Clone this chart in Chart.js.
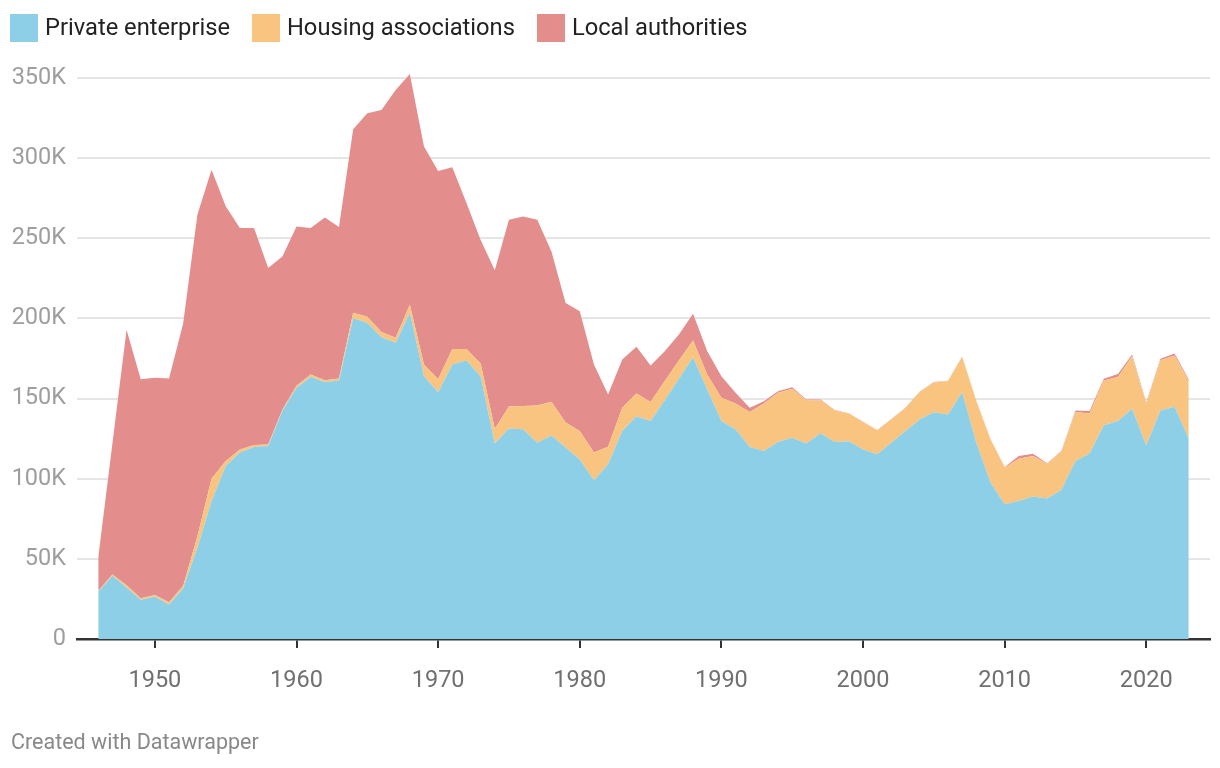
<!DOCTYPE html>
<html>
<head>
<meta charset="utf-8">
<title>Housebuilding completions by tenure</title>
<script src="https://cdn.jsdelivr.net/npm/chart.js@4.4.0/dist/chart.umd.min.js"></script>
<style>
  body { margin: 0; background: #fff; font-family: Roboto, sans-serif; }
  #wrap { position: relative; width: 1220px; height: 768px; overflow: hidden; }
  #housing-chart { position: absolute; left: 0; top: 0; }
  #legend { position: absolute; left: 10px; top: 13px; display: flex; align-items: center; height: 28px; }
  .item { display: flex; align-items: center; margin-right: 22px; font-size: 23.7px; color: #222; }
  .swatch { width: 28px; height: 28px; margin-right: 7px; margin-top: 2px; }
  #footer { position: absolute; left: 11px; top: 729px; font-size: 21.5px; color: #888; }
</style>
</head>
<body>
<div id="wrap">
  <canvas id="housing-chart" width="1220" height="768"></canvas>
  <div id="legend"></div>
  <div id="footer">Created with Datawrapper</div>
</div>
<script>
// years 1946 - 2023
let years = [];
for (let y = 1946; y <= 2023; y++) years.push(y);

// thousands of dwellings completed
let privateEnterprise = [
  29.5, 39.4, 32.2, 24.5, 26.4, 21.5, 31.6, 57.0, 86.0, 108.0,
  116.3, 119.8, 120.4, 142.2, 156.7, 163.4, 160.3, 161.3, 200.3, 197.2,
  188.3, 184.8, 203.5, 164.0, 154.0, 171.3, 173.8, 164.0, 122.0, 131.4,
  130.8, 122.5, 127.0, 119.4, 112.0, 99.0, 109.0, 129.7, 139.0, 136.0,
  149.0, 162.4, 175.8, 155.7, 136.0, 130.8, 119.8, 117.3, 122.9, 125.6,
  121.9, 128.3, 122.9, 123.3, 118.3, 115.2, 122.5, 129.7, 137.0, 141.4,
  140.1, 154.0, 122.5, 97.6, 84.1, 86.1, 88.9, 87.6, 93.0, 111.0,
  115.8, 133.3, 136.0, 143.7, 120.8, 142.6, 144.9, 125.0
];
let housingAssociations = [
  0.5, 0.8, 1.3, 1.0, 1.1, 1.5, 1.6, 7.0, 14.0, 3.0,
  2.0, 1.2, 1.0, 0.8, 1.3, 1.6, 1.2, 1.2, 3.2, 3.8,
  3.3, 3.2, 5.1, 7.3, 8.0, 9.7, 7.2, 7.9, 9.2, 13.6,
  14.5, 23.2, 21.0, 15.6, 17.7, 17.3, 11.0, 14.6, 14.2, 11.8,
  11.9, 11.4, 10.5, 9.3, 14.5, 16.2, 21.8, 29.7, 30.7, 30.5,
  27.1, 20.7, 19.7, 17.4, 17.0, 15.0, 14.5, 14.6, 17.0, 18.6,
  20.8, 22.0, 25.9, 27.0, 22.9, 26.4, 25.3, 21.7, 24.0, 30.6,
  24.9, 28.0, 27.4, 32.7, 26.0, 31.3, 32.0, 35.9
];
let localAuthorities = [
  20.9, 81.8, 159.5, 136.5, 135.5, 139.5, 163.8, 200.7, 192.7, 159.0,
  138.1, 135.4, 110.1, 95.7, 99.4, 91.4, 101.5, 94.5, 114.5, 127.0,
  138.4, 154.5, 143.9, 135.9, 130.0, 113.4, 91.0, 77.1, 98.8, 116.6,
  118.3, 115.9, 93.8, 74.7, 74.8, 55.0, 32.6, 30.1, 29.1, 22.8,
  18.7, 16.2, 16.7, 14.6, 13.5, 6.6, 2.7, 1.4, 1.0, 1.0,
  0.5, 0.5, 0.2, 0.2, 0.2, 0.2, 0.2, 0.2, 0.2, 0.3,
  0.2, 0.3, 0.2, 0.2, 0.3, 1.7, 1.4, 0.3, 0.3, 1.0,
  1.5, 1.1, 2.0, 1.1, 0.8, 0.9, 1.2, 1.0
];

let yTicks = [0, 50, 100, 150, 200, 250, 300, 350];
let xTicks = [1950, 1960, 1970, 1980, 1990, 2000, 2010, 2020];

const seriesNames = ['Private enterprise', 'Housing associations', 'Local authorities'];
const seriesColors = ['#8dcfe6', '#f9c47f', '#e38d8c'];

// html legend
const legend = document.getElementById('legend');
seriesNames.forEach(function (name, i) {
  const item = document.createElement('div');
  item.className = 'item';
  item.innerHTML = '<span class="swatch" style="background:' + seriesColors[i] + '"></span>' + name;
  legend.appendChild(item);
});

function areaSet(label, data, color, fill) {
  return {
    label: label,
    data: data,
    backgroundColor: color,
    borderColor: color,
    borderWidth: 0,
    pointRadius: 0,
    pointHoverRadius: 0,
    tension: 0,
    fill: fill
  };
}

const canvas = document.getElementById('housing-chart');
new Chart(canvas, {
  type: 'line',
  data: {
    labels: years,
    datasets: [
      areaSet(seriesNames[0], privateEnterprise, seriesColors[0], 'origin'),
      areaSet(seriesNames[1], housingAssociations, seriesColors[1], '-1'),
      areaSet(seriesNames[2], localAuthorities, seriesColors[2], '-1')
    ]
  },
  options: {
    responsive: false,
    animation: false,
    devicePixelRatio: 1,
    layout: { padding: { top: 70, right: 10, bottom: 0, left: 0 } },
    plugins: {
      legend: { display: false },
      tooltip: { enabled: false }
    },
    scales: {
      x: {
        type: 'linear',
        min: 1944.5,
        max: 2024.5,
        z: 2,
        afterBuildTicks: function (scale) {
          scale.ticks = xTicks.map(function (v) { return { value: v }; });
        },
        afterFit: function (scale) { scale.height = 129; },
        border: { display: true, color: '#333', width: 2.5 },
        grid: { drawOnChartArea: false, drawTicks: true, tickLength: 9, color: '#333', lineWidth: 2 },
        ticks: {
          padding: 19,
          maxRotation: 0,
          color: '#707070',
          font: { family: 'Roboto', size: 23.5 },
          callback: function (v) { return String(v); }
        }
      },
      y: {
        stacked: true,
        min: 0,
        max: 355,
        z: 1,
        afterBuildTicks: function (scale) {
          scale.ticks = yTicks.map(function (v) { return { value: v }; });
        },
        afterFit: function (scale) { scale.width = 77; },
        border: { display: false },
        grid: {
          drawTicks: false,
          lineWidth: 2,
          color: function (ctx) { return ctx.tick && ctx.tick.value === 0 ? 'rgba(0,0,0,0)' : 'rgba(0,0,0,0.1)'; }
        },
        ticks: {
          padding: 11,
          color: '#9e9e9e',
          font: { family: 'Roboto', size: 23.5 },
          callback: function (v) { return v === 0 ? '0' : v + 'K'; }
        }
      }
    }
  }
});
</script>
</body>
</html>
